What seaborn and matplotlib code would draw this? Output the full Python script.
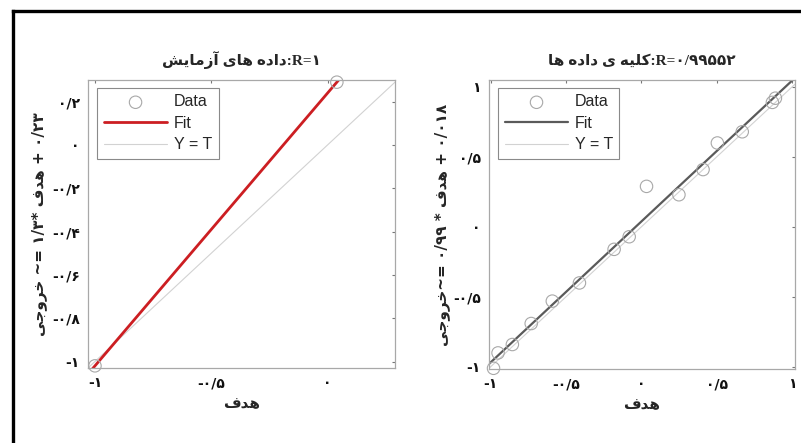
import numpy as np
import pandas as pd
import matplotlib
matplotlib.use("Agg")
import matplotlib.pyplot as plt
from matplotlib.lines import Line2D
import seaborn as sns

# ---------------- data ----------------
test_target = [-1.0, 0.04]
test_output = [-1.02, 0.29]

all_target = [-0.98, -0.95, -0.855, -0.73, -0.59, -0.41, -0.18, -0.08, 0.035, 0.25, 0.41, 0.505, 0.67, 0.87, 0.89]
all_output = [-1.01, -0.90, -0.84, -0.69, -0.53, -0.40, -0.16, -0.07, 0.29, 0.23, 0.41, 0.60, 0.68, 0.89, 0.92]

left_xticks = [-1, -0.5, 0]
left_xticklabels = ['-۱', '-۰/۵', '۰']
left_yticks = [-1, -0.8, -0.6, -0.4, -0.2, 0, 0.2]
left_yticklabels = ['-۱', '-۰/۸', '-۰/۶', '-۰/۴', '-۰/۲', '۰', '۰/۲']
right_ticks = [-1, -0.5, 0, 0.5, 1]
right_ticklabels = ['-۱', '-۰/۵', '۰', '۰/۵', '۱']

left_title_fa = 'داده های آزمایش'
left_title_r = ':R=۱'
right_title_fa = 'کلیه ی داده ها'
right_title_r = ':R=۰/۹۹۵۵۲'
word_output = 'خروجی'
word_target = 'هدف'
left_eq_mid = ' ~= ۱/۳* '
left_eq_end = ' + ۰/۲۳'
right_eq_mid = '~= ۰/۹۹ * '
right_eq_end = ' + ۰/۰۱۸'
legend_labels = ['Data', 'Fit', 'Y = T']

# ---------------- minimal Persian shaping (matplotlib has no bidi/shaping) ----------------
FORMS = {  # isolated, final, initial, medial
    'ا': ('\uFE8D', '\uFE8E', None, None),
    'آ': ('\uFE81', '\uFE82', None, None),
    'د': ('\uFEA9', '\uFEAA', None, None),
    'ر': ('\uFEAD', '\uFEAE', None, None),
    'ز': ('\uFEAF', '\uFEB0', None, None),
    'و': ('\uFEED', '\uFEEE', None, None),
    'ه': ('\uFEE9', '\uFEEA', '\uFEEB', '\uFEEC'),
    'ی': ('\uFBFC', '\uFBFD', '\uFBFE', '\uFBFF'),
    'م': ('\uFEE1', '\uFEE2', '\uFEE3', '\uFEE4'),
    'ش': ('\uFEB5', '\uFEB6', '\uFEB7', '\uFEB8'),
    'ک': ('\uFB8E', '\uFB8F', '\uFB90', '\uFB91'),
    'ل': ('\uFEDD', '\uFEDE', '\uFEDF', '\uFEE0'),
    'خ': ('\uFEA5', '\uFEA6', '\uFEA7', '\uFEA8'),
    'ج': ('\uFE9D', '\uFE9E', '\uFE9F', '\uFEA0'),
    'ف': ('\uFED1', '\uFED2', '\uFED3', '\uFED4'),
}


def rtl(s):
    out = []
    for i, ch in enumerate(s):
        if ch not in FORMS:
            out.append(ch)
            continue
        prev = s[i - 1] if i > 0 else ''
        nxt = s[i + 1] if i + 1 < len(s) else ''
        jp = prev in FORMS and FORMS[prev][2] is not None
        jn = FORMS[ch][2] is not None and nxt in FORMS
        f = FORMS[ch]
        if jp and jn:
            out.append(f[3])
        elif jp:
            out.append(f[1])
        elif jn:
            out.append(f[2])
        else:
            out.append(f[0])
    return ''.join(out)[::-1]


# ---------------- style ----------------
sns.set_theme(style='white')
plt.rcParams['font.family'] = ['DejaVu Sans']
SPINE = '#a8a8a8'

fig = plt.figure(figsize=(8.01, 4.43), dpi=100)
axL = fig.add_axes([88 / 801, 1 - 368 / 443, 307 / 801, 288 / 443])
axR = fig.add_axes([489 / 801, 1 - 369 / 443, 306 / 801, 289 / 443])

panels = [
    (axL, test_target, test_output, '#cc1e22', 2.0, (-1.03, 0.29), (-1.03, 0.30),
     left_xticks, left_xticklabels, left_yticks, left_yticklabels,
     rtl(left_title_fa) + left_title_r,
     rtl(word_output) + left_eq_mid + rtl(word_target) + left_eq_end, -0.1336),
    (axR, all_target, all_output, '#5a5a5a', 1.6, (-1.01, 1.02), (-1.015, 1.05),
     right_ticks, right_ticklabels, right_ticks, right_ticklabels,
     rtl(right_title_fa) + right_title_r,
     rtl(word_output) + right_eq_mid + rtl(word_target) + right_eq_end, -0.1275),
]

for ax, t, o, fitcol, fitlw, xl, yl, xt, xtl, yt, ytl, title, ylab, ylx in panels:
    t = np.asarray(t)
    o = np.asarray(o)
    slope, icpt = np.polyfit(t, o, 1)
    xs = np.array([xl[0], xl[1]])
    ident = pd.DataFrame({'x': xs, 'y': xs})
    fit = pd.DataFrame({'x': xs, 'y': slope * xs + icpt})
    pts = pd.DataFrame({'x': t, 'y': o})

    sns.lineplot(data=ident, x='x', y='y', ax=ax, color='#d2d2d2', lw=0.8, label=legend_labels[2])
    sns.lineplot(data=fit, x='x', y='y', ax=ax, color=fitcol, lw=fitlw, label=legend_labels[1])
    sns.scatterplot(data=pts, x='x', y='y', ax=ax, marker='o', s=80, facecolor='none',
                    edgecolor='#a8a8a8', linewidth=0.8, label=legend_labels[0], zorder=5, clip_on=False)

    ax.set_xlim(*xl)
    ax.set_ylim(*yl)
    ax.set_xticks(xt)
    ax.set_xticklabels(xtl, fontsize=10, fontweight='bold')
    ax.set_yticks(yt)
    ax.set_yticklabels(ytl, fontsize=10, fontweight='bold')
    ax.tick_params(direction='in', length=2.5, width=0.8, color='#777777', top=True, right=True,
                   labelcolor='#111111', pad=6)
    for sp in ax.spines.values():
        sp.set_color(SPINE)
        sp.set_linewidth(0.9)

    ax.set_title(title, fontsize=11, fontweight='bold', pad=11,
                 family=['Liberation Serif', 'DejaVu Sans'])
    ax.set_xlabel(rtl(word_target), fontsize=11, fontweight='bold', labelpad=4)
    ax.set_ylabel(ylab, fontsize=11, fontweight='bold')
    ax.yaxis.set_label_coords(ylx, 0.5)

    h, l = ax.get_legend_handles_labels()
    order = [l.index(k) for k in legend_labels]
    leg = ax.legend([h[i] for i in order], [l[i] for i in order], loc='upper left',
                    bbox_to_anchor=(0.03, 0.972), borderaxespad=0, fancybox=False, framealpha=1,
                    edgecolor='#8a8a8a', handlelength=4.0, labelspacing=0.4, borderpad=0.4,
                    handletextpad=0.4, prop={'family': 'Liberation Sans', 'size': 11.5})
    leg.get_frame().set_linewidth(0.8)

# outer black frame (top and left edges)
fig.add_artist(Line2D([12.5 / 801, 12.5 / 801], [0, 1 - 11 / 443], transform=fig.transFigure,
                      color='black', lw=2.4, solid_capstyle='projecting'))
fig.add_artist(Line2D([12.5 / 801, 1], [1 - 11 / 443, 1 - 11 / 443], transform=fig.transFigure,
                      color='black', lw=2.4, solid_capstyle='projecting'))

fig.savefig('out.png', dpi=100, facecolor='white')
